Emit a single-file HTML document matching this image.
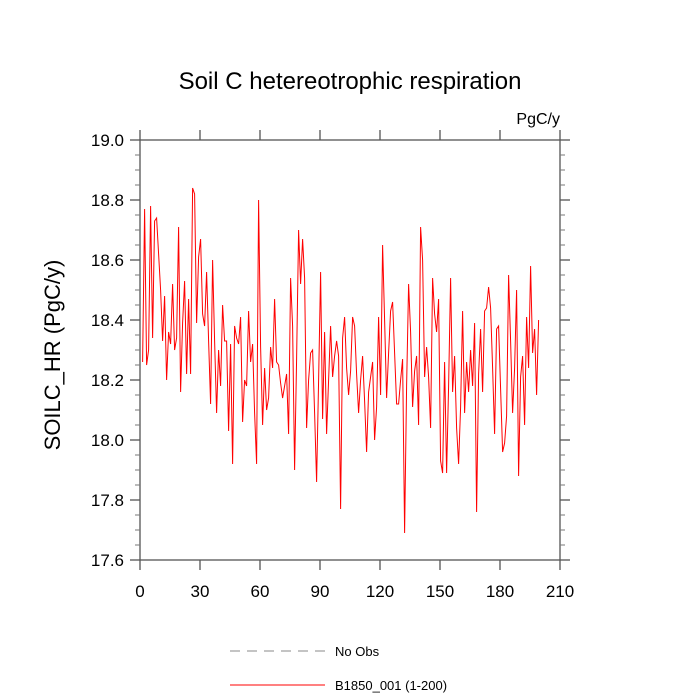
<!DOCTYPE html>
<html><head><meta charset="utf-8"><style>body{margin:0;background:#fff}svg{display:block;font-family:"Liberation Sans",sans-serif}</style></head>
<body>
<svg id="c" width="700" height="700">
<text x="350" y="89" font-size="24" text-anchor="middle">Soil C hetereotrophic respiration</text>
<text x="560" y="124" font-size="16" text-anchor="end">PgC/y</text>
<text transform="translate(60,355) rotate(-90)" font-size="22" text-anchor="middle">SOILC_HR  (PgC/y)</text>
<g id="ax"></g>
<g id="ln"></g>
<line x1="230" y1="651" x2="325" y2="651" stroke="#888" stroke-dasharray="10,7"/>
<text x="335" y="656" font-size="13">No Obs</text>
<line x1="230" y1="685" x2="325" y2="685" stroke="#f00"/>
<text x="335" y="690" font-size="13">B1850_001 (1-200)</text>
</svg>
<script>
const xTicks=[0,30,60,90,120,150,180,210];
const yTicks=[17.6,17.8,18.0,18.2,18.4,18.6,18.8,19.0];
const values=[18.26,18.77,18.25,18.30,18.78,18.34,18.73,18.74,18.62,18.50,18.33,18.48,18.20,18.36,18.32,18.52,18.30,18.34,18.71,18.16,18.39,18.53,18.22,18.47,18.22,18.84,18.82,18.39,18.61,18.67,18.42,18.38,18.56,18.33,18.12,18.60,18.33,18.09,18.30,18.18,18.45,18.33,18.33,18.03,18.32,17.92,18.38,18.34,18.32,18.41,18.06,18.20,18.18,
18.43,18.26,18.32,18.09,17.92,18.80,18.31,18.05,18.24,18.10,18.14,18.31,18.24,18.47,18.26,18.25,18.19,18.14,18.18,18.22,18.02,18.54,18.38,17.90,18.27,18.70,18.52,18.67,18.54,18.04,18.20,18.29,18.30,18.09,17.86,18.20,18.56,18.07,18.36,18.02,18.20,18.38,18.21,18.28,18.33,18.28,17.77,18.34,18.41,18.24,
18.15,18.23,18.41,18.38,18.22,18.09,18.20,18.28,18.13,17.96,18.16,18.21,18.26,18.00,18.11,18.41,18.15,18.65,18.40,18.14,18.29,18.43,18.46,18.29,18.12,18.12,18.20,18.27,17.69,18.18,18.52,18.36,18.11,18.23,18.28,18.05,18.71,18.60,18.21,18.31,18.21,18.04,18.54,18.42,18.36,18.47,17.93,17.89,18.26,17.89,
18.18,18.54,18.16,18.28,18.04,17.92,18.11,18.43,18.09,18.26,18.16,18.30,18.18,18.39,17.76,18.22,18.37,18.16,18.43,18.44,18.51,18.44,18.24,18.02,18.37,18.38,18.17,17.96,17.99,18.08,18.55,18.33,18.09,18.24,18.50,17.88,18.21,18.28,18.05,18.41,18.24,18.58,18.29,18.37,18.15,18.40];
const L=140,R=560,T=140,B=560;
const X=v=>L+(v-0)/(210-0)*(R-L);
const Y=v=>B-(v-17.6)/(19.0-17.6)*(B-T);
const NS='http://www.w3.org/2000/svg';
function mk(t,a,p){const e=document.createElementNS(NS,t);for(const k in a)e.setAttribute(k,a[k]);p.appendChild(e);return e;}
const ax=document.getElementById('ax'),ln=document.getElementById('ln');
const fr=mk('rect',{x:L,y:T,width:R-L,height:B-T,fill:'none',stroke:'#555','stroke-width':1.3},ax);


xTicks.forEach(v=>{const x=X(v);
 mk('line',{x1:x,y1:B,x2:x,y2:B+10,stroke:'#555','stroke-width':1.3},ax);
 mk('line',{x1:x,y1:T,x2:x,y2:T-10,stroke:'#555','stroke-width':1.3},ax);
 const t=mk('text',{x:x,y:B+37,'font-size':17,'text-anchor':'middle'},ax);t.textContent=v;
 
 
});
yTicks.forEach((v,i)=>{const y=Y(v);
 mk('line',{x1:L,y1:y,x2:L-10,y2:y,stroke:'#555','stroke-width':1.3},ax);
 mk('line',{x1:R,y1:y,x2:R+10,y2:y,stroke:'#555','stroke-width':1.3},ax);
 const t=mk('text',{x:L-16,y:y+6,'font-size':17,'text-anchor':'end'},ax);t.textContent=v.toFixed(1);
 
 
 if(i<yTicks.length-1){for(let k=1;k<4;k++){const ym=Y(v+k*0.05);
  mk('line',{x1:L,y1:ym,x2:L-5,y2:ym,stroke:'#777','stroke-width':1},ax);
  mk('line',{x1:R,y1:ym,x2:R+5,y2:ym,stroke:'#777','stroke-width':1},ax);}}
});
const pts=values.map((v,i)=>X(i+1.3)+','+Y(v)).join(' ');
const pl=mk('polyline',{points:pts,fill:'none',stroke:'#f00','stroke-width':1},ln);


</script>
</body></html>
